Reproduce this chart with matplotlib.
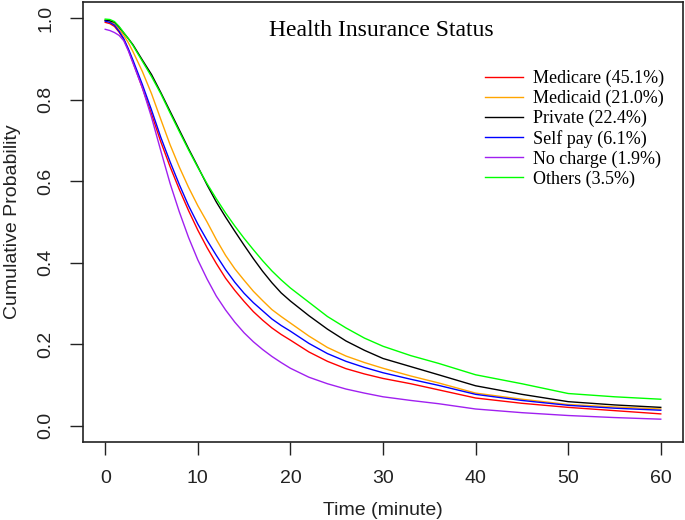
import matplotlib
matplotlib.use("Agg")
import matplotlib.pyplot as plt

t = [0, 0.5, 1, 1.5, 2, 2.5, 3, 4, 5, 6, 7, 8, 9, 10, 11, 12, 13, 14, 15, 16, 17, 18, 19, 20,
     22, 24, 26, 28, 30, 33, 36, 40, 45, 50, 55, 60]

medicare = [0.990, 0.987, 0.980, 0.966, 0.948, 0.922, 0.892, 0.830, 0.765, 0.697, 0.636, 0.580, 0.528,
            0.480, 0.437, 0.398, 0.362, 0.332, 0.305, 0.280, 0.259, 0.240, 0.224, 0.210,
            0.181, 0.158, 0.140, 0.127, 0.116, 0.103, 0.088, 0.068, 0.055, 0.045, 0.037, 0.029]
medicaid = [0.995, 0.993, 0.985, 0.972, 0.958, 0.940, 0.918, 0.870, 0.815, 0.752, 0.690, 0.635, 0.585,
            0.540, 0.500, 0.457, 0.418, 0.385, 0.357, 0.330, 0.307, 0.285, 0.268, 0.252,
            0.220, 0.192, 0.171, 0.155, 0.141, 0.122, 0.105, 0.080, 0.065, 0.052, 0.046, 0.041]
private = [0.995, 0.994, 0.990, 0.978, 0.964, 0.950, 0.935, 0.898, 0.862, 0.818, 0.772, 0.726, 0.680,
           0.636, 0.591, 0.549, 0.512, 0.477, 0.443, 0.410, 0.379, 0.351, 0.326, 0.306,
           0.270, 0.237, 0.208, 0.185, 0.165, 0.145, 0.125, 0.098, 0.077, 0.059, 0.051, 0.045]
selfpay = [0.993, 0.990, 0.983, 0.968, 0.950, 0.925, 0.897, 0.838, 0.775, 0.708, 0.648, 0.592, 0.540,
           0.495, 0.455, 0.418, 0.383, 0.352, 0.325, 0.302, 0.282, 0.262, 0.246, 0.232,
           0.202, 0.177, 0.158, 0.143, 0.130, 0.114, 0.099, 0.077, 0.062, 0.050, 0.043, 0.038]
nocharge = [0.973, 0.970, 0.965, 0.958, 0.945, 0.920, 0.890, 0.830, 0.757, 0.675, 0.595, 0.525, 0.462,
            0.407, 0.360, 0.318, 0.284, 0.254, 0.228, 0.206, 0.187, 0.170, 0.155, 0.141,
            0.119, 0.103, 0.090, 0.080, 0.071, 0.062, 0.054, 0.041, 0.032, 0.025, 0.020, 0.016]
others = [0.998, 0.997, 0.992, 0.980, 0.965, 0.950, 0.933, 0.895, 0.857, 0.815, 0.768, 0.722, 0.677,
          0.634, 0.594, 0.557, 0.522, 0.490, 0.460, 0.432, 0.405, 0.380, 0.358, 0.338,
          0.303, 0.268, 0.240, 0.215, 0.195, 0.172, 0.153, 0.125, 0.103, 0.079, 0.071, 0.065]

labels = ["Medicare (45.1%)", "Medicaid (21.0%)", "Private (22.4%)",
          "Self pay (6.1%)", "No charge (1.9%)", "Others (3.5%)"]
series = [medicare, medicaid, private, selfpay, nocharge, others]
colors = ["#FF0000", "#FFA500", "#000000", "#0000FF", "#A020F0", "#00FF00"]

xticks = [0, 10, 20, 30, 40, 50, 60]
yticks = [0.0, 0.2, 0.4, 0.6, 0.8, 1.0]
ytick_labels = ["0.0", "0.2", "0.4", "0.6", "0.8", "1.0"]

fig = plt.figure(figsize=(6.85, 5.2), dpi=100)
ax = fig.add_axes([83/685, 78/520, 600/685, 440/520])

for ys, c, lab in zip(series, colors, labels):
    ax.plot(t, ys, color=c, lw=1.0, label=lab)

ax.set_xlim(-2.4, 62.4)
ax.set_ylim(-0.04, 1.04)
ax.set_xticks(xticks)
ax.set_yticks(yticks)
ax.set_yticklabels(ytick_labels, rotation=90, va="center")
ax.tick_params(direction="out", length=9.4, width=1.0, labelsize=14,
               labelfontfamily="Liberation Sans", color="#222222", labelcolor="#222222")
ax.tick_params(axis="x", pad=11)
ax.tick_params(axis="y", pad=11)
for s in ax.spines.values():
    s.set_linewidth(1.2)
    s.set_color("#222222")

ax.set_xlabel("Time (minute)", fontsize=14, family="Liberation Sans", color="#222222")
ax.set_ylabel("Cumulative Probability", fontsize=14, family="Liberation Sans", color="#222222")
ax.xaxis.set_label_coords(0.5, -0.137)
ax.yaxis.set_label_coords(-0.104, 0.5)

ax.text(0.497, 0.936, "Health Insurance Status", transform=ax.transAxes,
        ha="center", va="center", fontsize=17, family="Liberation Serif")

leg = ax.legend(loc="upper left", bbox_to_anchor=(0.67, 0.846), frameon=False,
                prop={"family": "Liberation Serif", "size": 13},
                handlelength=2.1, handletextpad=0.55, labelspacing=0.15,
                borderpad=0, borderaxespad=0)

fig.savefig("out.png", dpi=100)
